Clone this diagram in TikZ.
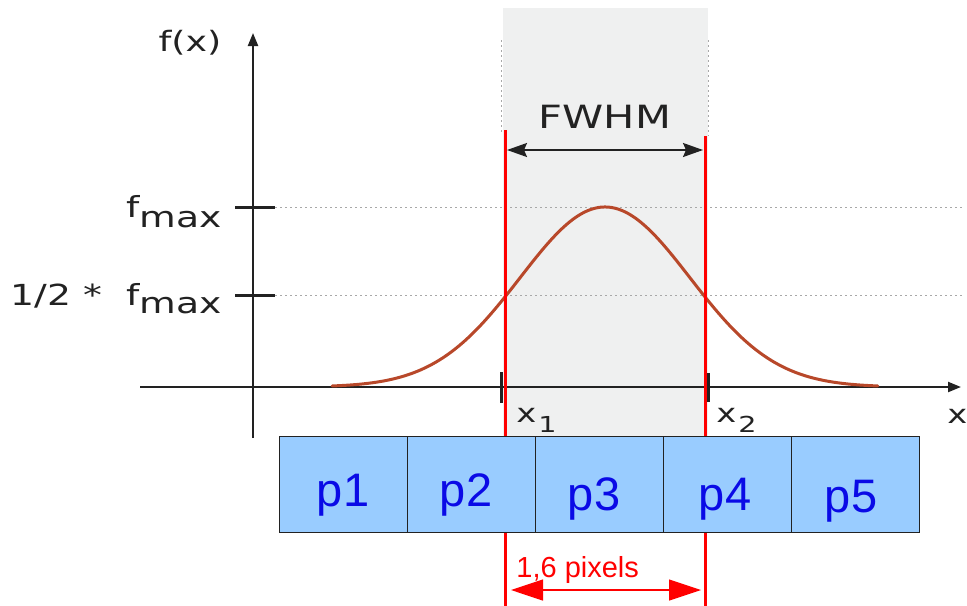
\documentclass[tikz,border=0pt]{standalone}
\usepackage{fontspec}
\usetikzlibrary{arrows.meta}
\newfontfamily\gfont[FakeStretch=1.3]{DejaVu Sans}
\newfontfamily\afont{Liberation Sans}
\definecolor{txtgray}{HTML}{222222}
\definecolor{shadegray}{HTML}{EFF0F0}
\definecolor{curvecol}{HTML}{B8482A}
\definecolor{boxfill}{HTML}{99CCFF}
\definecolor{boxtext}{HTML}{0A0AE6}
\definecolor{redline}{HTML}{FF0000}
\definecolor{dotgray}{HTML}{A8A8A8}
\begin{document}
\begin{tikzpicture}[x=0.5pt,y=-0.5pt,
  axisline/.style={draw=txtgray, line width=1.1pt},
  tickmark/.style={draw=txtgray, line width=1.5pt},
  dotline/.style={draw=dotgray, line width=0.5pt, dash pattern=on 1pt off 1.5pt},
  glab/.style={text=txtgray, inner sep=0pt, font=\gfont\fontsize{13}{15}\selectfont},
  pbox/.style={draw=txtgray, line width=0.5pt, fill=boxfill, minimum width=64pt, minimum height=48pt, inner sep=0pt},
  plab/.style={text=boxtext, inner sep=0pt, font=\afont\fontsize{23.5}{27}\selectfont},
  redv/.style={draw=redline, line width=1.5pt},
]
\useasboundingbox (0,0) rectangle (967,605);
% shaded FWHM band
\fill[shadegray] (503,8) rectangle (708,436);
% dotted guides
\coordinate (dl1) at (275,207); \coordinate (dr1) at (962,207);
\coordinate (dl2) at (275,295); \coordinate (dr2) at (962,295);
\draw[dotline] (dl1) -- (dr1);
\draw[dotline] (dl2) -- (dr2);
\coordinate (vl1) at (501,40); \coordinate (vl2) at (501,132);
\coordinate (vr1) at (708,40); \coordinate (vr2) at (708,136);
\draw[dotline] (vl1) -- (vl2);
\draw[dotline] (vr1) -- (vr2);
% axes
\coordinate (yb) at (253,438); \coordinate (yt) at (253,33);
\coordinate (xl) at (140,387); \coordinate (xr) at (961,387);
\draw[axisline, -{Triangle[length=6.5pt,width=5pt]}] (yb) -- (yt);
\draw[axisline, -{Triangle[length=6.5pt,width=5pt]}] (xl) -- (xr);
% gaussian curve
\draw[curvecol, line width=1.5pt, line cap=round] plot[domain=-3.21:3.21, samples=120, smooth] ({605+85*\x},{387-180*exp(-\x*\x/2)});
% ticks
\coordinate (t1a) at (235,207); \coordinate (t1b) at (275,207);
\coordinate (t2a) at (235,295); \coordinate (t2b) at (275,295);
\draw[tickmark] (t1a) -- (t1b);
\draw[tickmark] (t2a) -- (t2b);
\coordinate (x1a) at (501,372); \coordinate (x1b) at (501,403);
\coordinate (x2a) at (708,373); \coordinate (x2b) at (708,402);
\draw[tickmark] (x1a) -- (x1b);
\draw[tickmark] (x2a) -- (x2b);
% labels
\node[glab, anchor=base, font=\gfont\fontsize{14}{16}\selectfont] (fx) at (190,51) {f(x)};
\node[glab, anchor=base east, font=\gfont\fontsize{14.5}{16}\selectfont] (fmax) at (222,217) {f\raisebox{-5pt}{max}};
\node[glab, anchor=base east, font=\gfont\fontsize{14.5}{16}\selectfont] (fhalf) at (222,305) {1/2 * \ f\raisebox{-4pt}{max}};
\node[glab, anchor=base, font=\gfont\fontsize{16}{18}\selectfont] (fwhm) at (605,128) {FWHM};
\node[glab, anchor=base west] (xone) at (516,422) {x\kern1pt\raisebox{-5pt}{\fontsize{11}{12}\selectfont 1}};
\node[glab, anchor=base west] (xtwo) at (716,422) {x\kern1pt\raisebox{-5pt}{\fontsize{11}{12}\selectfont 2}};
\node[glab, anchor=base west] (xlab) at (947,423) {x};
% red lines
\coordinate (r1t) at (505,130); \coordinate (r1b) at (505,606);
\coordinate (r2t) at (705,136); \coordinate (r2b) at (705,606);
\draw[redv] (r1t) -- (r1b);
\draw[redv] (r2t) -- (r2b);
% FWHM arrow
\coordinate (fa) at (507,150); \coordinate (fb) at (703,150);
\draw[txtgray, line width=1pt, {Stealth[length=10pt,width=7pt,inset=1.5pt]}-{Stealth[length=10pt,width=7pt,inset=1.5pt]}] (fa) -- (fb);
% pixel boxes
\node[pbox] (b1) at (343,484) {};
\node[pbox] (b2) at (471,484) {};
\node[pbox] (b3) at (599,484) {};
\node[pbox] (b4) at (727,484) {};
\node[pbox] (b5) at (855,484) {};
\node[plab, anchor=base] (p1) at (343,506) {p1};
\node[plab, anchor=base] (p2) at (466,506) {p2};
\node[plab, anchor=base] (p3) at (594,510) {p3};
\node[plab, anchor=base] (p4) at (725,510) {p4};
\node[plab, anchor=base] (p5) at (851,512) {p5};
% pixel width arrow
\node[anchor=base west, inner sep=0pt, text=redline, font=\afont\fontsize{14.5}{16}\selectfont] (pix) at (516,577) {1,6 pixels};
\coordinate (ra) at (511,590); \coordinate (rb) at (701,590);
\draw[redline, line width=0.6pt, {Triangle[length=16pt,width=10.5pt]}-{Triangle[length=16pt,width=10.5pt]}] (ra) -- (rb);
\end{tikzpicture}
\end{document}
